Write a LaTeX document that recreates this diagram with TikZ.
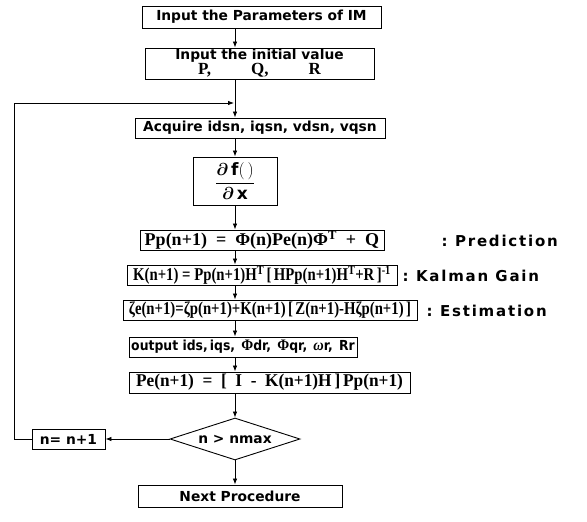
\documentclass[tikz,border=0pt]{standalone}
\usepackage{fontspec}
\usepackage{bm}
\setmainfont{DejaVu Sans}
\newfontfamily\fserif{Liberation Serif}
\usetikzlibrary{arrows.meta,shapes.geometric}
\begin{document}
\begin{tikzpicture}[x=1pt,y=-1pt,
  box/.style={draw,line width=0.9pt,inner sep=0pt,minimum height=20pt},
  arr/.style={line width=0.8pt,-{Latex[length=6pt,width=4.5pt]}},
  txt/.style={font=\fontsize{13.8}{15}\selectfont\bfseries},
  lbl/.style={font=\fontsize{15}{17}\selectfont\bfseries\addfontfeatures{LetterSpace=12}},
  fml/.style={font=\fontsize{18}{20}\selectfont\fserif\bfseries},
]
\useasboundingbox (0,0) rectangle (587,522);
\fill[white] (0,0) rectangle (587,522);

\node[box,txt,minimum width=239pt,minimum height=22pt] (b1) at (261.5,17) {Input the Parameters of IM};
\node[box,txt,minimum width=229pt,minimum height=31pt,align=center] (b2) at (259.5,63.5)
  {Input the initial value\\[0pt]{\fserif\fontsize{17}{13}\selectfont P,\hspace{40pt}Q,\hspace{40pt}R}};
\node[box,txt,minimum width=250pt] (b3) at (260,128) {Acquire idsn, iqsn, vdsn, vqsn};
\node[box,minimum width=84pt,minimum height=48pt] (b4) at (235,181)
  {\fontsize{17}{19}\selectfont$\displaystyle\frac{\bm{\partial}\,\mathbf{f}(\,)}{\bm{\partial}\,\mathbf{x}}$};
\node[box,fml,minimum width=244pt] (b5) at (262,240)
  {Pp(n+1)\enspace=\enspace Φ(n)Pe(n)Φ\textsuperscript{T}\enspace+\enspace Q};
\node[box,fml,minimum width=270pt] (b6) at (262,275)
  {\scalebox{0.82}[1]{K(n+1) = Pp(n+1)H\textsuperscript{T}\,[\,HPp(n+1)H\textsuperscript{T}+R\,]\textsuperscript{-1}}};
\node[box,fml,minimum width=294pt] (b7) at (270,310)
  {\scalebox{0.82}[1]{ζe(n+1)=ζp(n+1)+K(n+1)\,[\,Z(n+1)-Hζp(n+1)\,]}};
\node[box,txt,minimum width=228pt] (b8) at (243,347)
  {\scalebox{0.9}[1]{output ids,\,iqs,\enspace{\fserif\fontsize{16}{15}\selectfont Φ}dr,\enspace{\fserif\fontsize{16}{15}\selectfont Φ}qr,\enspace{\fserif\itshape\fontsize{16}{15}\selectfont ω}r,\enspace Rr}};
\node[box,fml,minimum width=281pt,minimum height=21pt] (b9) at (269.5,382.5)
  {\scalebox{0.96}[1]{Pe(n+1)\enspace=\enspace[\enspace I\enspace -\enspace K(n+1)H\,]\,Pp(n+1)}};
\node[draw,line width=0.9pt,diamond,aspect=3,inner sep=0pt,minimum width=130pt,minimum height=42pt,txt] (d) at (235,439) {n \textgreater{} nmax};
\node[box,txt,minimum width=73pt] (bn) at (68.5,439) {n= n+1};
\node[box,txt,minimum width=204pt,minimum height=22pt] (bnext) at (240,496) {Next Procedure};

\node[lbl,anchor=west] (l1) at (438,241) {:\enspace Prediction};
\node[lbl,anchor=west] (l2) at (399,276) {:\enspace Kalman Gain};
\node[lbl,anchor=west] (l3) at (423,311) {:\enspace Estimation};

\coordinate (join) at (235,103);
\draw[arr] (b1.south -| d.north) -- (b2.north -| d.north);
\draw[arr] (b2.south -| d.north) -- (b3.north -| d.north);
\draw[arr] (b3.south -| d.north) -- (b4.north);
\draw[arr] (b4.south) -- (b5.north -| d.north);
\draw[arr] (b5.south -| d.north) -- (b6.north -| d.north);
\draw[arr] (b6.south -| d.north) -- (b7.north -| d.north);
\draw[arr] (b7.south -| d.north) -- (b8.north -| d.north);
\draw[arr] (b8.south -| d.north) -- (b9.north -| d.north);
\draw[arr] (b9.south -| d.north) -- (d.north);
\draw[arr] (d.south) -- (bnext.north -| d.south);
\draw[arr] (d.west) -- (bn.east);
\draw[arr] (bn.west) -- ++(-17,0) |- ([xshift=-1pt]join);
\end{tikzpicture}
\end{document}
